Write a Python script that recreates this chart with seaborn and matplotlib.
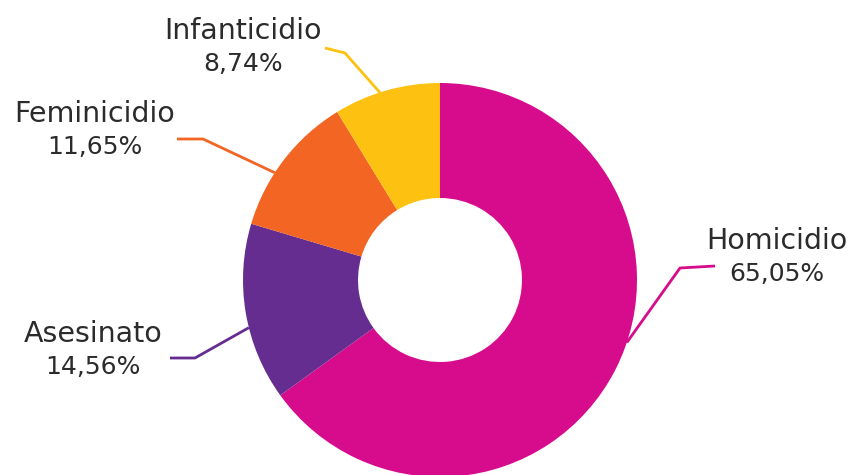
import numpy as np
import matplotlib.pyplot as plt
import seaborn as sns

# Datos
categorias = ['Homicidio', 'Asesinato', 'Feminicidio', 'Infanticidio']
porcentajes = [65.05, 14.56, 11.65, 8.74]
etiquetas_pct = ['65,05%', '14,56%', '11,65%', '8,74%']
colores = ['#D70C8C', '#662D91', '#F26522', '#FDC112']

sns.set_theme(style='white')
plt.rcParams['font.family'] = ['DejaVu Sans']

W, H = 852, 475
fig = plt.figure(figsize=(W / 100, H / 100), dpi=100)
ax = fig.add_axes([0, 0, 1, 1])

# centro y radio en pixeles (y hacia arriba)
cx, cy = 440, H - 280
r = 197
wedges, _ = ax.pie(porcentajes, colors=colores, startangle=90, counterclock=False,
                   radius=r, center=(cx, cy),
                   wedgeprops=dict(width=r - 82, linewidth=0))
ax.set_xlim(0, W)
ax.set_ylim(0, H)
ax.set_aspect('equal')
ax.axis('off')

# layout de etiquetas: angulo de anclaje, codo, fin de linea, posicion del texto (pixeles)
layout = {
    'Homicidio':    dict(ang=-18.5, codo=(680, 268), fin=(715, 266), txt=(777, 241)),
    'Asesinato':    dict(ang=-166, codo=(195, 358), fin=(170, 358), txt=(93, 334)),
    'Feminicidio':  dict(ang=147, codo=(203, 139), fin=(177, 139), txt=(95, 114)),
    'Infanticidio': dict(ang=107.8, codo=(345, 53), fin=(325, 48), txt=(243, 31)),
}

for cat, pct, col in zip(categorias, etiquetas_pct, colores):
    L = layout[cat]
    a = np.deg2rad(L['ang'])
    ax0 = cx + r * np.cos(a)
    ay0 = cy + r * np.sin(a)
    xs = [ax0, L['codo'][0], L['fin'][0]]
    ys = [ay0, H - L['codo'][1], H - L['fin'][1]]
    ax.plot(xs, ys, color=col, lw=2, solid_capstyle='butt')
    tx, ty = L['txt']
    ax.text(tx, H - ty, cat, ha='center', va='center', fontsize=20.5, color='#2b2b2b')
    ax.text(tx, H - ty - 33, pct, ha='center', va='center', fontsize=18, color='#2b2b2b')

fig.savefig('out.png', dpi=100)
